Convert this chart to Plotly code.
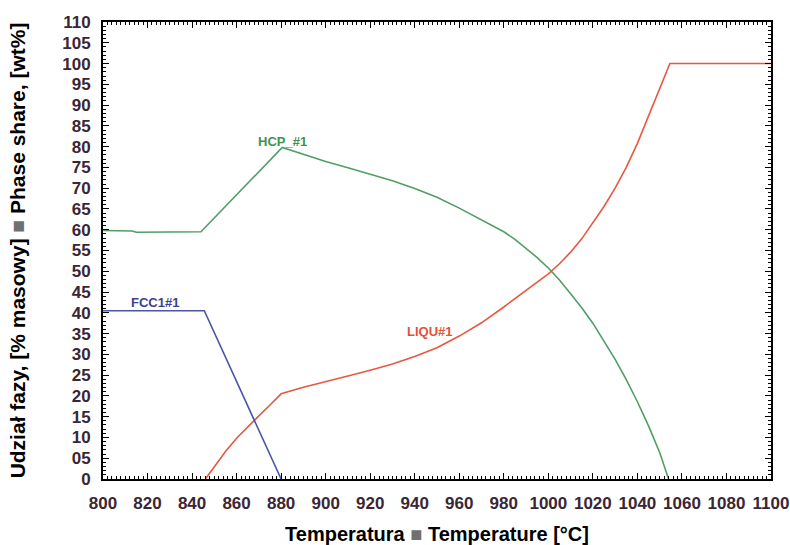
import plotly.graph_objects as go

# HCP_#1 phase (green)
hcp_t = [800, 813, 815, 844, 880.5, 890, 900, 910, 920, 930, 940, 950, 960, 970, 980, 985, 990, 995, 1000,
         1005, 1010, 1015, 1020, 1025, 1030, 1035, 1040, 1045, 1050, 1054]
hcp_v = [59.8, 59.7, 59.4, 59.5, 79.8, 78.1, 76.4, 74.9, 73.4, 71.8, 69.9, 67.8, 65.2, 62.4, 59.5, 57.7, 55.6, 53.3, 50.8,
         47.9, 44.6, 41.2, 37.5, 33.3, 28.8, 23.9, 18.6, 12.8, 6.4, 0.0]

# LIQU#1 phase (red)
liq_t = [846, 850, 855, 860, 865, 870, 875, 880, 890, 900, 910, 920, 930, 940, 950, 960, 970, 980, 990, 1000,
         1005, 1010, 1015, 1020, 1025, 1030, 1035, 1040, 1045, 1050, 1054.6, 1100]
liq_v = [0.0, 3.0, 6.6, 9.8, 12.6, 15.2, 17.8, 20.5, 22.1, 23.4, 24.8, 26.2, 27.7, 29.5, 31.6, 34.4, 37.6, 41.4, 45.5, 49.4,
         51.8, 54.6, 57.8, 61.6, 65.6, 70.0, 75.0, 80.8, 87.5, 94.0, 100.0, 100.0]

# FCC1#1 phase (blue)
fcc_t = [800, 845.5, 880]
fcc_v = [40.5, 40.5, 0.0]

y_ticks = [0, 5, 10, 15, 20, 25, 30, 35, 40, 45, 50, 55, 60, 65, 70, 75, 80, 85, 90, 95, 100, 105, 110]
y_tick_text = ["0", "05", "10", "15", "20", "25", "30", "35", "40", "45", "50", "55", "60", "65", "70", "75", "80", "85", "90", "95", "100", "105", "110"]
x_ticks = [800, 820, 840, 860, 880, 900, 920, 940, 960, 980, 1000, 1020, 1040, 1060, 1080, 1100]

GREEN = "#4f9e68"
RED = "#e8583f"
BLUE = "#4a55a8"
TICKCOL = "#3a2634"
FONT = "Liberation Sans, Arial, sans-serif"

fig = go.Figure()
fig.add_trace(go.Scatter(x=hcp_t, y=hcp_v, mode="lines", line=dict(color=GREEN, width=1.6), hoverinfo="skip"))
fig.add_trace(go.Scatter(x=liq_t, y=liq_v, mode="lines", line=dict(color=RED, width=1.6), hoverinfo="skip"))
fig.add_trace(go.Scatter(x=fcc_t, y=fcc_v, mode="lines", line=dict(color=BLUE, width=1.6), hoverinfo="skip"))

lab_font = dict(family=FONT, size=13)
fig.add_annotation(x=880.8, y=81.3, text="<b>HCP_#1</b>", showarrow=False,
                   font=dict(color="#3f9350", **lab_font))
fig.add_annotation(x=823.4, y=42.6, text="<b>FCC1#1</b>", showarrow=False,
                   font=dict(color="#3b3f95", **lab_font))
fig.add_annotation(x=946.9, y=35.6, text="<b>LIQU#1</b>", showarrow=False,
                   font=dict(color="#e4503a", **lab_font))

fig.update_layout(
    width=790, height=545,
    margin=dict(l=103, r=19, t=22, b=66),
    paper_bgcolor="white", plot_bgcolor="white",
    showlegend=False,
    font=dict(family=FONT),
)

fig.update_xaxes(
    range=[800, 1100], tickvals=x_ticks, automargin=False,
    showgrid=False, zeroline=False,
    showline=True, linecolor="black", linewidth=2, mirror="ticks",
    ticks="inside", ticklen=6, tickwidth=1, tickcolor="black",
    minor=dict(dtick=2, ticks="inside", ticklen=3, tickcolor="black", tickwidth=1, showgrid=False),
    ticklabelstandoff=8,
    tickfont=dict(size=17, color=TICKCOL, family=FONT, weight="bold"),
    title=dict(text="<b>Temperatura <span style='color:#707070'>■</span> Temperature [°C]</b>",
               font=dict(size=20, color="black"), standoff=20),
)
fig.update_yaxes(
    range=[0, 110], tickvals=y_ticks, ticktext=y_tick_text, automargin=False,
    showgrid=False, zeroline=False,
    showline=True, linecolor="black", linewidth=2, mirror="ticks",
    ticks="inside", ticklen=6, tickwidth=1, tickcolor="black",
    minor=dict(dtick=1, ticks="inside", ticklen=3, tickcolor="black", tickwidth=1, showgrid=False),
    ticklabelstandoff=7,
    tickfont=dict(size=17, color=TICKCOL, family=FONT, weight="bold"),
    title=dict(text="<b>Udział fazy, [% masowy] <span style='color:#707070'>■</span> Phase share, [wt%]</b>",
               font=dict(size=21, color="black"), standoff=31),
)

fig.write_html("out.html")
